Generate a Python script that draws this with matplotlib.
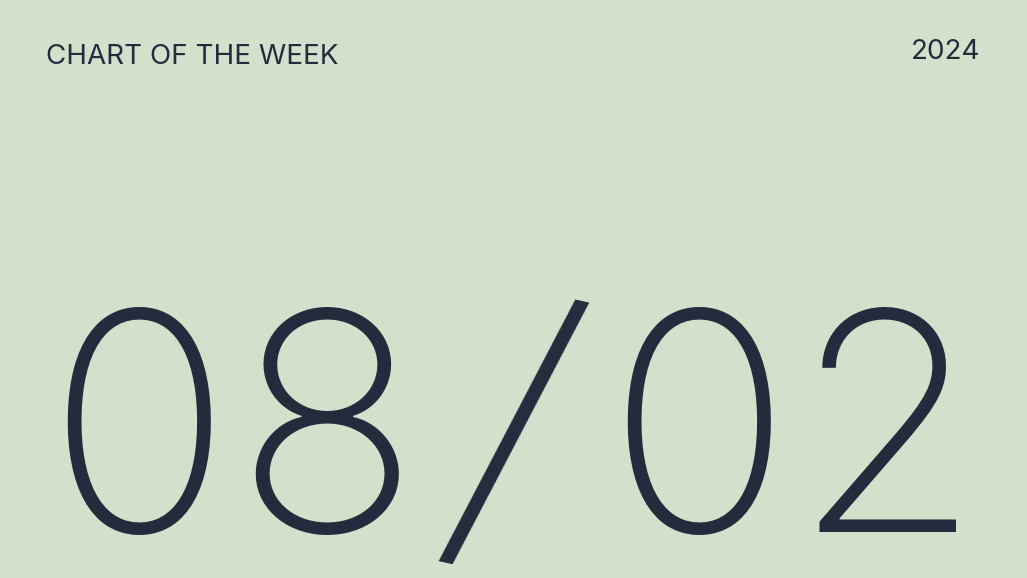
import matplotlib.pyplot as plt

BG = '#D2E0CC'
INK = '#232B3D'

header = 'CHART OF THE WEEK'
year = '2024'
day = '08'
month = '02'
sep = '/'


def main():
    fig = plt.figure(figsize=(10.27, 5.78), dpi=100)
    fig.patch.set_facecolor(BG)
    W, H = 1027, 578

    def fx(px):
        return px / W

    def fy(py):
        return 1 - py / H

    fig.text(fx(46), fy(64), header, fontsize=20, color=INK,
             family='Inter', va='baseline', ha='left')
    fig.text(fx(980), fy(59), year, fontsize=20, color=INK,
             family='Inter', va='baseline', ha='right')

    # big date, one glyph at a time so the spacing matches
    big = dict(fontsize=220, color=INK, family='Inter', fontweight='light',
               va='baseline', ha='center')
    centers = [139, 327, 699, 887]
    glyphs = list(day) + list(month)
    for g, cx in zip(glyphs, centers):
        fig.text(fx(cx), fy(532), g, **big)

    # the slash leans further than Inter's, so tilt it a little
    fig.text(fx(509), fy(454), sep, fontsize=236, color=INK, family='Inter',
             fontweight='light', ha='center', va='center', rotation=-12.5,
             rotation_mode='anchor')

    fig.savefig('out.png', dpi=100, facecolor=BG)


if __name__ == '__main__':
    main()
